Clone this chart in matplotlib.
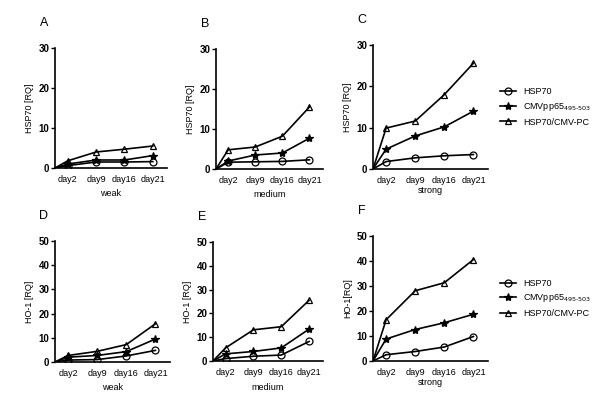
import matplotlib
matplotlib.use("Agg")
import matplotlib.pyplot as plt

plt.rcParams["font.family"] = ["Liberation Sans", "DejaVu Sans"]

days = ["day2", "day9", "day16", "day21"]
series = ["HSP70", "CMVpp65$_{495\\text{-}503}$", "HSP70/CMV-PC"]

# HSP70 expression [RQ]
hsp_weak = [[0.6, 1.5, 1.5, 1.6], [1.0, 2.0, 2.0, 3.1], [1.8, 4.0, 4.7, 5.5]]
hsp_medium = [[1.7, 1.8, 1.9, 2.3], [2.0, 3.5, 4.0, 7.7], [4.8, 5.5, 8.2, 15.5]]
hsp_strong = [[1.8, 2.7, 3.2, 3.5], [4.8, 8.0, 10.2, 14.0], [9.9, 11.6, 18.0, 25.6]]
# HO-1 expression [RQ]
ho_weak = [[0.8, 1.0, 2.5, 4.8], [2.0, 2.7, 4.3, 9.5], [2.7, 4.4, 7.2, 15.8]]
ho_medium = [[1.0, 2.0, 2.5, 8.2], [3.0, 4.0, 5.5, 13.4], [5.5, 13.1, 14.4, 25.5]]
ho_strong = [[2.5, 3.8, 5.6, 9.8], [8.8, 12.6, 15.3, 18.7], [16.5, 28.1, 31.3, 40.6]]

markers = [dict(marker="o", mfc="none", ms=5),
           dict(marker="*", mfc="black", ms=6),
           dict(marker="^", mfc="none", ms=5)]

panels = [
    ("A", hsp_weak, "HSP70 [RQ]", "weak", 30, [55, 48, 167, 168], False),
    ("B", hsp_medium, "HSP70 [RQ]", "medium", 30, [216, 49, 323, 169], False),
    ("C", hsp_strong, "HSP70 [RQ]", "strong", 30, [373, 45, 488, 169], True),
    ("D", ho_weak, "HO-1 [RQ]", "weak", 50, [55, 241, 170, 362], False),
    ("E", ho_medium, "HO-1 [RQ]", "medium", 50, [213, 242, 323, 361], False),
    ("F", ho_strong, "HO-1[RQ]", "strong", 50, [373, 236, 488, 361], True),
]

W, H = 600, 404
fig = plt.figure(figsize=(6, 4.04), dpi=100)
x0 = 0.55
xs = [x0, 1, 2, 3, 4]

for label, data, ylab, xlab, ymax, (l, t, r, b), leg in panels:
    ax = fig.add_axes([l / W, 1 - b / H, (r - l) / W, (b - t) / H])
    for vals, name, mk in zip(data, series, markers):
        ax.plot(xs, [0] + vals, color="black", lw=1.2, label=name,
                markevery=[1, 2, 3, 4], mec="black", mfc=mk["mfc"],
                marker=mk["marker"], ms=mk["ms"], mew=0.9)
    ax.set_xlim(x0, 4.5)
    ax.set_ylim(0, ymax)
    ax.set_yticks(range(0, ymax + 1, 10))
    ax.set_xticks([1, 2, 3, 4])
    ax.set_xticklabels(days)
    ax.tick_params(axis="x", length=0, labelsize=6.5, pad=5)
    ax.tick_params(axis="y", length=3, width=1, labelsize=7, pad=1)
    for lab in ax.get_yticklabels():
        lab.set_fontweight("bold")
    ax.spines["top"].set_visible(False)
    ax.spines["right"].set_visible(False)
    ax.spines["left"].set_linewidth(1.2)
    ax.spines["bottom"].set_linewidth(1.2)
    ax.set_ylabel(ylab, fontsize=6.5, labelpad=3)
    ax.set_xlabel(xlab, fontsize=6.5, labelpad=4 if not leg else 1)
    ax.annotate(label, xy=(0, 1), xycoords="axes fraction", xytext=(-8, 18),
                textcoords="offset points", fontsize=9, ha="center", va="center")
    if leg:
        ax.legend(loc="center left", bbox_to_anchor=(1.03, 0.5), frameon=False,
                  fontsize=6.5, handlelength=1.8, labelspacing=0.5, handletextpad=0.8)

fig.savefig("out.png", dpi=100, facecolor="white")
